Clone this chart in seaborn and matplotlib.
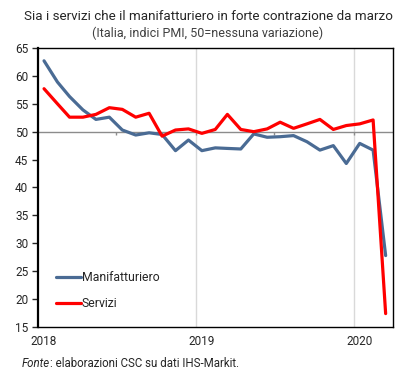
import pandas as pd
import matplotlib
matplotlib.use('Agg')
import matplotlib.pyplot as plt
import seaborn as sns

# Dati PMI Italia, gennaio 2018 - marzo 2020
mesi = pd.date_range('2018-01-01', periods=27, freq='MS') + pd.Timedelta(days=14)
manifatturiero = [62.7, 58.9, 56.3, 53.9, 52.2, 52.6, 50.3, 49.4, 49.8, 49.5, 46.6, 48.5,
                  46.6, 47.1, 47.0, 46.9, 49.6, 49.0, 49.1, 49.3, 48.2, 46.7, 47.5, 44.3,
                  47.9, 46.7, 27.8]
servizi = [57.7, 55.0, 52.6, 52.6, 53.1, 54.3, 54.0, 52.6, 53.3, 49.2, 50.3, 50.5,
           49.7, 50.4, 53.1, 50.4, 50.0, 50.5, 51.7, 50.6, 51.4, 52.2, 50.4, 51.1,
           51.4, 52.1, 17.4]
anni = ['2018', '2019', '2020']
y_ticks = [15, 20, 25, 30, 35, 40, 45, 50, 55, 60, 65]

df = pd.DataFrame({'data': list(mesi) * 2,
                   'valore': manifatturiero + servizi,
                   'serie': ['Manifatturiero'] * len(mesi) + ['Servizi'] * len(mesi)})

sns.set_theme(style='white')
plt.rcParams['font.family'] = ['Roboto', 'DejaVu Sans']

fig = plt.figure(figsize=(4.16, 3.74), dpi=100)
ax = fig.add_axes([0.0913, 0.1257, 0.8534, 0.746])

# griglia verticale ai cambi d'anno
for a in anni[1:]:
    ax.axvline(pd.Timestamp(a + '-01-01'), color='#d9d9d9', lw=1, zorder=0)

# asse a 50 con tacche semestrali
ax.axhline(50, color='#8c8c8c', lw=1, zorder=1)
semestri = pd.date_range('2018-07-01', '2020-01-01', freq='6MS')
ax.vlines(semestri, 49.45, 50, color='#8c8c8c', lw=1, zorder=1)

sns.lineplot(data=df, x='data', y='valore', hue='serie',
             palette={'Manifatturiero': '#4a6b94', 'Servizi': '#ff0000'},
             lw=2.3, ax=ax, zorder=3)

ax.set_xlim(pd.Timestamp('2018-01-01'), pd.Timestamp('2020-04-01'))
ax.set_ylim(15, 65)
ax.set_yticks(y_ticks)
ax.set_xticks([pd.Timestamp(a + '-01-15') for a in anni])
ax.set_xticklabels(anni)
ax.set_xlabel('')
ax.set_ylabel('')
ax.tick_params(axis='y', length=4, width=1, color='#262626', pad=3,
               labelsize=8.5, labelcolor='#262626', left=True)
ax.tick_params(axis='x', length=0, pad=6, labelsize=8.5, labelcolor='#262626')

for s in ['top', 'right', 'bottom']:
    ax.spines[s].set_color('#000000')
    ax.spines[s].set_linewidth(1)
ax.spines['left'].set_color('#000000')
ax.spines['left'].set_linewidth(1.6)

leg = ax.legend(loc='lower left', bbox_to_anchor=(0.02, 0.02), frameon=False,
                fontsize=8.8, handlelength=2.0, handletextpad=0.1,
                labelspacing=1.1, title=None)
for t in leg.get_texts():
    t.set_color('#262626')

fig.text(0.5, 0.957, 'Sia i servizi che il manifatturiero in forte contrazione da marzo',
         ha='center', va='center', fontsize=9.6, color='#262626')
fig.text(0.5, 0.912, '(Italia, indici PMI, 50=nessuna variazione)',
         ha='center', va='center', fontsize=9, color='#404040')

# fonte: prima parte in corsivo, poi il resto subito dopo
t1 = fig.text(0.053, 0.029, 'Fonte', ha='left', va='center', fontsize=8.3,
              style='italic', color='#262626')
fig.canvas.draw()
bb = t1.get_window_extent().transformed(fig.transFigure.inverted())
fig.text(bb.x1, 0.029, ': elaborazioni CSC su dati IHS-Markit.',
         ha='left', va='center', fontsize=8.3, color='#262626')

fig.savefig('out.png', dpi=100)
